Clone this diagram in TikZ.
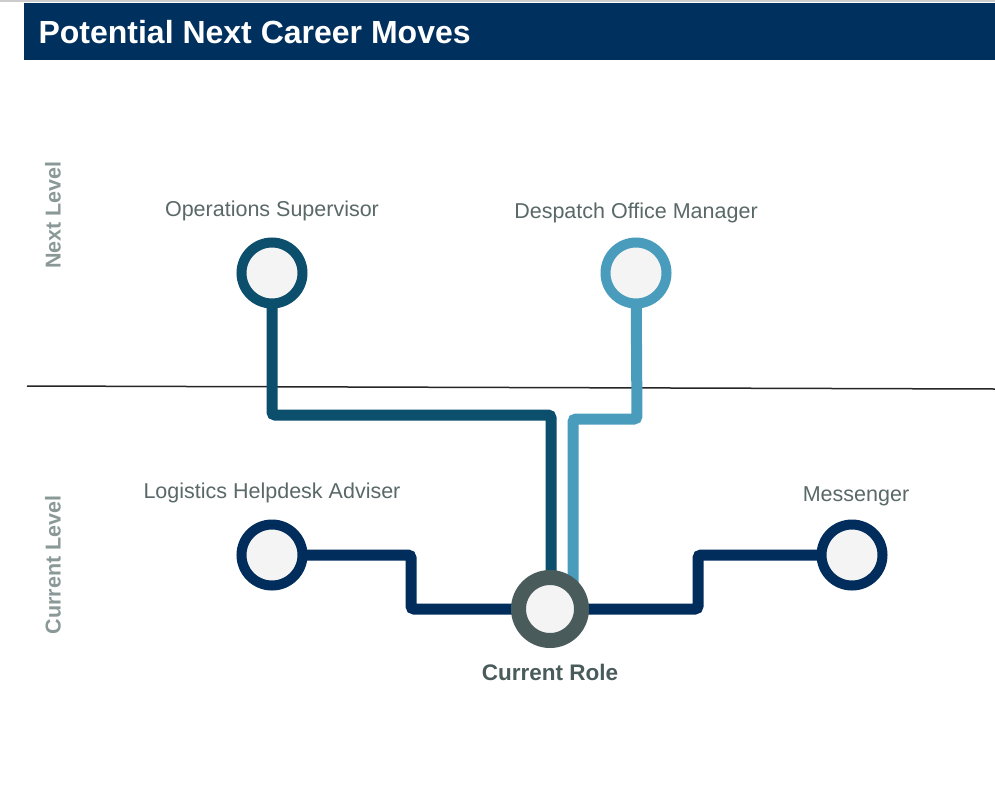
\documentclass[tikz,border=0pt]{standalone}
\usepackage{fontspec}
\setmainfont{Liberation Sans}
\definecolor{hdr}{HTML}{00305E}
\definecolor{ops}{HTML}{0B4F6C}
\definecolor{desp}{HTML}{4A9CBD}
\definecolor{navy}{HTML}{002D5C}
\definecolor{cur}{HTML}{4A5B5B}
\definecolor{lbl}{HTML}{5A6868}
\definecolor{side}{HTML}{8A9898}
\definecolor{fillc}{HTML}{F4F4F4}
\begin{document}
\begin{tikzpicture}[x=1pt,y=-1pt,
  role/.style={circle,draw=#1,line width=10pt,fill=fillc,minimum size=61pt,inner sep=0pt},
  conn/.style={draw=#1,line width=11pt,rounded corners=3pt},
  lab/.style={text=lbl,font=\fontsize{21.5}{24}\selectfont,anchor=center},
  sidelab/.style={text=side,font=\bfseries\fontsize{21.5}{24}\selectfont,rotate=90,anchor=center}]
\useasboundingbox (0,0) rectangle (995,795);
\fill[white] (0,0) rectangle (995,795);
\fill[black!20] (0,0) rectangle (995,2);
\fill[hdr] (24,3) rectangle (995,60);
\node[anchor=west,text=white,font=\bfseries\fontsize{32}{36}\selectfont] (title) at (35,32) {Potential Next Career Moves};
% separator
\coordinate (sepL) at (27,386);
\coordinate (sepR) at (995,389);
\draw[line width=1.5pt,black!85] (sepL) -- (sepR);
% side labels
\node[sidelab] (nextlvl) at (53,215) {Next Level};
\node[sidelab] (curlvl) at (53,565) {Current Level};
% nodes
\coordinate (opsC) at (272,273);
\coordinate (despC) at (636,273);
\coordinate (logC) at (272,555);
\coordinate (msgC) at (852,555);
\coordinate (curC) at (550,609);
% connectors
\draw[conn=ops] (opsC) -- (272,415) -- (551,415) -- (551,600);
\draw[conn=desp] (despC) -- (637,419) -- (573,419) -- (573,600);
\draw[conn=navy] (logC) -- (411,555) -- (411,609) -- (curC);
\draw[conn=navy] (msgC) -- (698,555) -- (698,609) -- (curC);
% circles
\node[role=ops] (ops) at (opsC) {};
\node[role=desp] (desp) at (despC) {};
\node[role=navy] (log) at (logC) {};
\node[role=navy] (msg) at (msgC) {};
\node[circle,draw=cur,line width=15pt,fill=fillc,minimum size=63pt,inner sep=0pt] (cur) at (curC) {};
% labels
\node[lab] (opsl) at (272,211) {Operations Supervisor};
\node[lab] (despl) at (636,213) {Despatch Office Manager};
\node[lab] (logl) at (272,493) {Logistics Helpdesk Adviser};
\node[lab] (msgl) at (856,496) {Messenger};
\node[text=cur,font=\bfseries\fontsize{22.5}{25}\selectfont] (curl) at (550,672) {Current Role};
\end{tikzpicture}
\end{document}
